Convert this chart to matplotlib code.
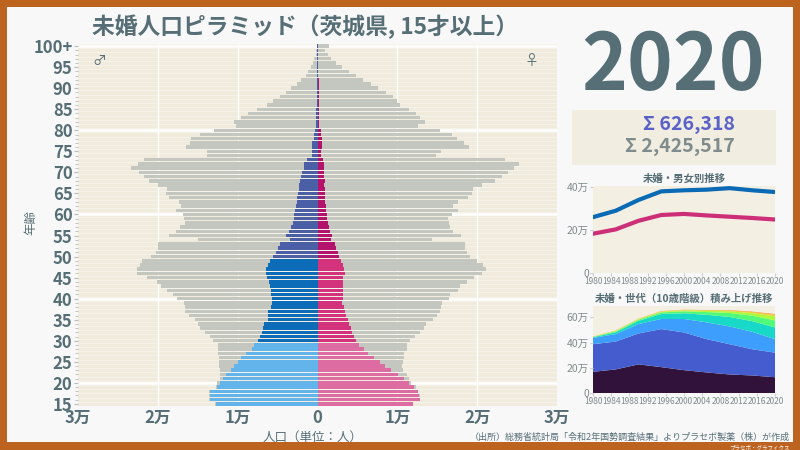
import numpy as np
import matplotlib.pyplot as plt
from matplotlib.patches import Rectangle
from matplotlib.ticker import MultipleLocator

plt.rcParams['font.family'] = ['Noto Sans CJK JP', 'DejaVu Sans']

# 年齢 15..100+
ages = np.arange(15, 101)

male_total = [12800, 13550, 13550, 13600, 12700, 12570, 12190, 12190, 12190, 12280,
              12320, 12360, 12440, 12440, 12440, 13110, 13450, 14120, 14750, 15000,
              15380, 16090, 16590, 16630, 16720, 17600, 18100, 18860, 19570, 20150,
              21370, 22670, 22670, 22250, 21960, 20870, 20240, 19990, 20030, 15000,
              18600, 17680, 17220, 16630, 16680, 16800, 17720, 17050, 17350, 18600,
              19020, 18900, 19940, 21120, 21750, 22420, 23340, 22500, 21750, 13830,
              13870, 16470, 16010, 15840, 14710, 12950, 10270, 10480, 9640, 8760,
              7540, 6290, 5530, 4730, 3980, 3310, 2560, 2050, 1420, 1130,
              800, 545, 380, 250, 170, 125]
male_unmarried = [12740, 13500, 13500, 13450, 12570, 12200, 11820, 11440, 10850, 10520,
                  10010, 9550, 8970, 8170, 7920, 7460, 7250, 7000, 6830, 6660,
                  6200, 6200, 6160, 5820, 5740, 5740, 5780, 5870, 5910, 6080,
                  6290, 6490, 6450, 6240, 5990, 5570, 5200, 4990, 4690, 3480,
                  3980, 3600, 3270, 3060, 2890, 2890, 2850, 2640, 2600, 2560,
                  2390, 2350, 2300, 2220, 2050, 1890, 1720, 1680, 1300, 750,
                  670, 670, 630, 500, 460, 335, 220, 200, 190, 170,
                  140, 120, 110, 100, 90, 80, 70, 60, 50, 40,
                  30, 25, 20, 15, 10, 10]
female_total = [12000, 12850, 12780, 12650, 12280, 11770, 11480, 11150, 10730, 10560,
                10730, 10890, 10850, 11190, 11230, 11560, 12190, 12820, 13370, 13580,
                14460, 14960, 15340, 15500, 15540, 16470, 16550, 17560, 17890, 18730,
                19610, 20610, 21080, 20700, 20030, 19060, 18730, 18480, 18480, 14290,
                17930, 17010, 16640, 16420, 16340, 16890, 17640, 16970, 17640, 18860,
                19360, 19530, 20610, 22250, 23130, 23880, 24640, 25180, 23460, 14830,
                15420, 18940, 18350, 17430, 16800, 15380, 12610, 13410, 12780, 12360,
                11520, 10350, 9930, 9430, 8590, 7630, 6660, 5700, 4780, 3940,
                3020, 2350, 1630, 1260, 920, 1470]
female_unmarried = [11910, 12830, 12750, 12570, 12110, 11440, 10850, 10060, 9180, 8420,
                    7840, 7120, 6330, 5820, 5200, 4780, 4610, 4360, 4190, 3940,
                    3810, 3560, 3390, 3310, 3100, 3230, 3180, 3230, 3180, 3230,
                    3230, 3390, 3310, 3180, 2930, 2680, 2510, 2260, 2140, 1630,
                    1760, 1590, 1420, 1300, 1215, 1130, 1090, 1050, 960, 960,
                    920, 880, 860, 880, 840, 840, 840, 800, 710, 460,
                    500, 545, 545, 545, 500, 420, 250, 250, 250, 250,
                    240, 230, 220, 200, 190, 170, 150, 130, 120, 100,
                    80, 60, 50, 40, 30, 40]

# 推移
years = [1980, 1985, 1990, 1995, 2000, 2005, 2010, 2015, 2020]
male_trend = [26.0, 29.0, 34.0, 38.0, 38.5, 38.8, 39.5, 38.5, 37.7]
female_trend = [18.3, 20.3, 24.3, 27.0, 27.5, 26.8, 26.2, 25.6, 24.9]

gen_15_19 = [16.8, 18.7, 22.7, 20.5, 18.1, 16.3, 14.7, 13.9, 12.5]
gen_20s = [21.9, 22.1, 24.5, 30.2, 29.9, 26.4, 24.0, 20.8, 19.5]
gen_30s = [5.0, 5.9, 7.5, 8.0, 10.7, 13.3, 14.1, 13.8, 10.7]
gen_40s = [0.5, 1.5, 2.5, 4.0, 4.5, 6.0, 7.5, 8.5, 9.3]
gen_50s = [0.3, 0.7, 0.9, 1.2, 1.6, 2.2, 3.2, 4.3, 5.6]
gen_60s = [0.15, 0.4, 0.5, 0.6, 0.7, 0.9, 1.3, 2.0, 3.2]
gen_70s = [0.1, 0.2, 0.25, 0.3, 0.35, 0.45, 0.6, 0.8, 1.3]
gen_80p = [0.05, 0.07, 0.1, 0.15, 0.2, 0.25, 0.35, 0.45, 0.55]

slate = '#566e76'
beige = '#f0ebdc'

fig = plt.figure(figsize=(8, 4.5), dpi=100)
fig.patch.set_facecolor('#bd6320')
fig.patches.append(Rectangle((7/800, 8/450), 786/800, 435/450, transform=fig.transFigure,
                             facecolor='#f8f8f8', edgecolor='none', zorder=-2))

# ピラミッド
ax = fig.add_axes([78/800, 44/450, 479/800, 362/450])
ax.set_facecolor(beige)

def band_color(a, c1, c2, c3):
    if a < 30:
        return c1
    if a < 50:
        return c2
    return c3

mcol = [band_color(a, '#62b4ea', '#0d6cb8', '#4a5fa6') for a in ages]
fcol = [band_color(a, '#dd6ca2', '#d3337c', '#b3136c') for a in ages]

for a in ages:
    ax.axhline(a + 0.5, color='white', lw=0.4, alpha=0.7, zorder=0.5)
for a in [20, 40, 60, 80, 100]:
    ax.axhline(a, color='white', lw=1.8, zorder=0.6)
for x in [-20000, -10000, 10000, 20000]:
    ax.axvline(x, color='white', lw=1, zorder=0.6)

ax.barh(ages, -np.array(male_total), height=0.82, color='#c4c7bf', zorder=2)
ax.barh(ages, female_total, height=0.82, color='#c4c7bf', zorder=2)
ax.barh(ages, -np.array(male_unmarried), height=0.82, color=mcol, zorder=3)
ax.barh(ages, female_unmarried, height=0.82, color=fcol, zorder=3)

ax.set_xlim(-30000, 30000)
ax.set_ylim(14.5, 100.5)
ax.set_xticks([-30000, -20000, -10000, 0, 10000, 20000, 30000])
ax.set_xticklabels(['3万', '2万', '1万', '0', '1万', '2万', '3万'])
ax.set_yticks(range(15, 101, 5))
ax.set_yticklabels([str(v) for v in range(15, 100, 5)] + ['100+'])
ax.yaxis.set_minor_locator(MultipleLocator(1))
ax.tick_params(axis='both', which='major', labelsize=12, labelcolor=slate, length=3, color='#bbbbbb', pad=1)
ax.tick_params(axis='y', which='minor', length=2, color='#bbbbbb', width=0.6)
ax.tick_params(axis='x', length=0, pad=2)
for lab in ax.get_xticklabels() + ax.get_yticklabels():
    lab.set_fontweight('bold')
for s in ax.spines.values():
    s.set_visible(False)

ax.text(-27300, 96.5, '♂', fontsize=10, color=slate, ha='center', va='center')
ax.text(26800, 96.5, '♀', fontsize=10, color=slate, ha='center', va='center')

fig.text(313/800, 1 - 437/450, '人口（単位：人）', fontsize=9, color=slate, ha='center', va='center')
fig.text(31/800, 1 - 222/450, '年齢', fontsize=9, color=slate, ha='center', va='center', rotation=90)
fig.text(305/800, 1 - 27/450, '未婚人口ピラミッド（茨城県, 15才以上）', fontsize=16.4,
         fontweight='bold', color=slate, ha='center', va='center')

# 年・合計
fig.text(673/800, 1 - 67/450, '2020', fontsize=56, fontweight='bold', color=slate,
         ha='center', va='center')
fig.patches.append(Rectangle((572/800, 1 - 165/450), 204/800, 55/450, transform=fig.transFigure,
                             facecolor='#f1ede1', edgecolor='none', zorder=-1))
fig.text(735/800, 1 - 125/450, 'Σ 626,318', fontsize=14, fontweight='bold', color='#5a62c8',
         ha='right', va='center')
fig.text(735/800, 1 - 147/450, 'Σ 2,425,517', fontsize=14, fontweight='bold', color='#7f8c8d',
         ha='right', va='center')

# 男女別推移
ax2 = fig.add_axes([593/800, 1 - 273/450, 182/800, 87/450])
ax2.set_facecolor('#f3efe3')
ax2.plot(years, np.array(male_trend) * 1e4, color='#0a6ab5', lw=3)
ax2.plot(years, np.array(female_trend) * 1e4, color='#cc2f78', lw=3)
ax2.set_xlim(1980, 2020)
ax2.set_ylim(0, 40.5e4)
ax2.set_title('未婚・男女別推移', fontsize=7.5, fontweight='bold', color=slate, pad=3)

# 世代別積み上げ
ax3 = fig.add_axes([593/800, 1 - 393/450, 182/800, 87/450])
ax3.set_facecolor('#f3efe3')
gens = [gen_15_19, gen_20s, gen_30s, gen_40s, gen_50s, gen_60s, gen_70s, gen_80p]
cols = plt.cm.turbo(np.linspace(0.0, 0.72, len(gens)))
ax3.stackplot(years, *[np.array(g) * 1e4 for g in gens], colors=cols, lw=0)
ax3.set_xlim(1980, 2020)
ax3.set_ylim(0, 69e4)
ax3.set_title('未婚・世代（10歳階級）積み上げ推移', fontsize=7.5, fontweight='bold', color=slate, pad=3)

for a, yt, yl in [(ax2, [0, 20e4, 40e4], ['0', '20万', '40万']),
                  (ax3, [0, 20e4, 40e4, 60e4], ['0', '20万', '40万', '60万'])]:
    a.set_xticks(range(1980, 2021, 4))
    a.set_yticks(yt)
    a.set_yticklabels(yl)
    a.tick_params(axis='x', labelsize=6, labelcolor='#7f8c8d', length=2, color='#cccccc', pad=1)
    a.tick_params(axis='y', labelsize=7.5, labelcolor='#7f8c8d', length=2, color='#cccccc', pad=1)
    for s in a.spines.values():
        s.set_visible(False)

fig.text(790/800, 1 - 437/450, '（出所）総務省統計局「令和2年国勢調査結果」よりプラセボ製薬（株）が作成',
         fontsize=6.5, color=slate, ha='right', va='center')
fig.text(790/800, 1 - 447/450, 'プラセボ・グラフィクス', fontsize=4, color='white', ha='right', va='center')

fig.savefig('out.png', dpi=100, facecolor=fig.get_facecolor())
